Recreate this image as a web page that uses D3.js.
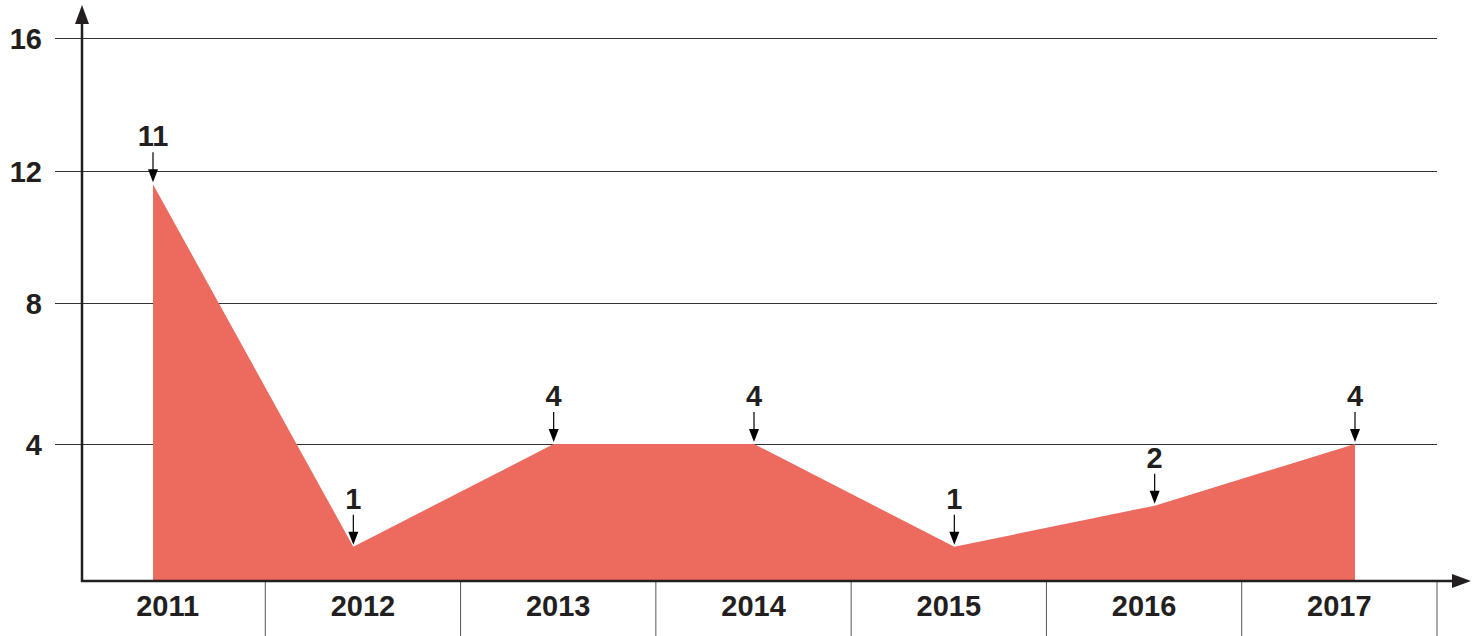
<!DOCTYPE html>
<html>
<head>
<meta charset="utf-8">
<script src="https://cdn.jsdelivr.net/npm/d3@7"></script>
<style>
  body { margin: 0; background: #fff; }
  text { font-family: "Liberation Sans", Arial, Helvetica, sans-serif; font-weight: bold; fill: #231f20; }
</style>
</head>
<body>
<script>
// data
const years = ['2011', '2012', '2013', '2014', '2015', '2016', '2017'];
const values = [11.6, 1, 4, 4, 1, 2.2, 4];      // plotted heights
const labels = ['11', '1', '4', '4', '1', '2', '4']; // numbers written above
const yTicks = [4, 8, 12, 16];

const width = 1482, height = 636;
const axisX = 82, axisY = 581, right = 1437;
const ink = '#231f20';

const svg = d3.select('body').append('svg')
  .attr('width', width)
  .attr('height', height);

// the drawn scale is slightly uneven, so map each gridline
const y = d3.scaleLinear().domain([0, 4, 8, 12, 16]).range([axisY, 444, 303, 171, 38]);
const xPoint = d3.scalePoint().domain(years).range([153, 1355]);
const xBand = d3.scaleBand().domain(years).range([70, right]);

// gridlines + y labels
const yAxis = svg.append('g')
  .attr('transform', 'translate(55,0)')
  .call(d3.axisLeft(y)
    .tickValues(yTicks)
    .tickSizeInner(-(right - 55))
    .tickSizeOuter(0)
    .tickPadding(13));
yAxis.select('.domain').remove();
yAxis.selectAll('.tick line').attr('stroke', '#333').attr('stroke-width', 1);
yAxis.selectAll('.tick text')
  .style('font-size', '29px')
  .attr('dy', '0.36em');

// area
const area = d3.area()
  .x((d, i) => xPoint(years[i]))
  .y0(y(0))
  .y1(d => y(d));

svg.append('path')
  .datum(values)
  .attr('d', area)
  .attr('fill', '#ec6b5e');

// category separators
const seps = years.slice(1).map(d => xBand(d)).concat([right]);
svg.selectAll('.sep')
  .data(seps)
  .enter().append('line')
  .attr('class', 'sep')
  .attr('x1', d => d).attr('x2', d => d)
  .attr('y1', axisY).attr('y2', height)
  .attr('stroke', '#555')
  .attr('stroke-width', 1);

// x labels
const xAxis = svg.append('g')
  .attr('transform', `translate(0,${axisY})`)
  .call(d3.axisBottom(xBand).tickSize(0).tickPadding(14));
xAxis.select('.domain').remove();
xAxis.selectAll('.tick text').style('font-size', '29px');

// axes with arrowheads
svg.append('line')
  .attr('x1', axisX).attr('y1', axisY + 1)
  .attr('x2', axisX).attr('y2', 22)
  .attr('stroke', ink).attr('stroke-width', 2.5);
svg.append('path')
  .attr('d', `M${axisX - 7},24 L${axisX},5 L${axisX + 7},24 Z`)
  .attr('fill', ink);

svg.append('line')
  .attr('x1', axisX - 1).attr('y1', axisY)
  .attr('x2', 1455).attr('y2', axisY)
  .attr('stroke', ink).attr('stroke-width', 2.5);
svg.append('path')
  .attr('d', `M1452,${axisY - 7} L1471,${axisY} L1452,${axisY + 7} Z`)
  .attr('fill', ink);

// value annotations
const notes = svg.selectAll('.note')
  .data(values)
  .enter().append('g')
  .attr('class', 'note')
  .attr('transform', (d, i) => `translate(${xPoint(years[i])},${y(d)})`);

notes.append('line')
  .attr('x1', 0).attr('x2', 0)
  .attr('y1', -32).attr('y2', -10)
  .attr('stroke', '#000')
  .attr('stroke-width', 1.2);

notes.append('path')
  .attr('d', 'M-5,-15 L5,-15 L0,-2 Z')
  .attr('fill', '#000');

notes.append('text')
  .attr('y', -38)
  .attr('text-anchor', 'middle')
  .style('font-size', '29px')
  .text((d, i) => labels[i]);
</script>
</body>
</html>
